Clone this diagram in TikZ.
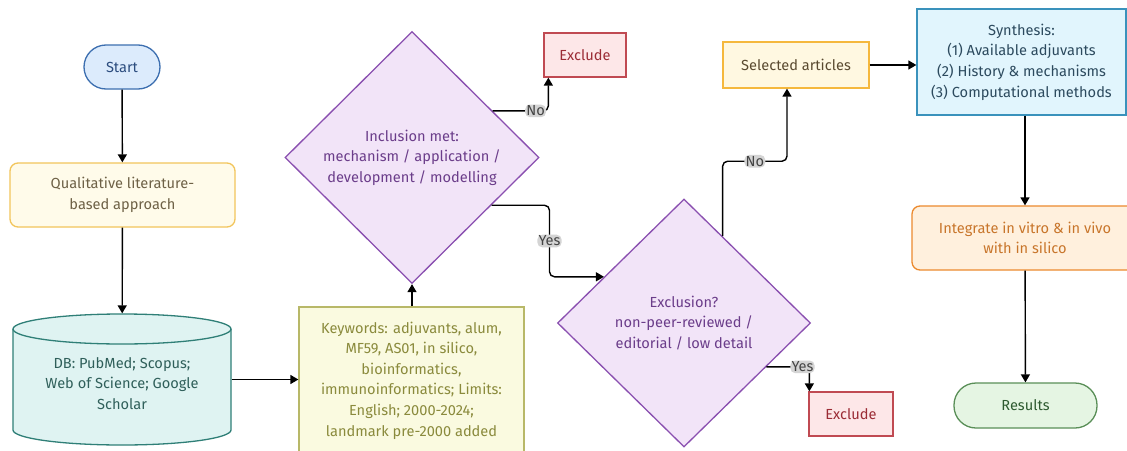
\documentclass[tikz,border=0pt]{standalone}
\usepackage{fontspec}
\setmainfont{Fira Sans}
\usetikzlibrary{shapes.geometric,arrows.meta,calc}
\definecolor{startF}{HTML}{DCEBFC}\definecolor{startD}{HTML}{3D6FB0}\definecolor{startT}{HTML}{2B4C7E}
\definecolor{qualF}{HTML}{FFFBEA}\definecolor{qualD}{HTML}{F2C55C}\definecolor{qualT}{HTML}{6E6146}
\definecolor{dbF}{HTML}{DFF3F2}\definecolor{dbD}{HTML}{2F7F77}\definecolor{dbT}{HTML}{2F5F5A}
\definecolor{kwF}{HTML}{FAFAE0}\definecolor{kwD}{HTML}{B8B868}\definecolor{kwT}{HTML}{8A8A3C}
\definecolor{diaF}{HTML}{F2E4F8}\definecolor{diaD}{HTML}{8A4FB0}\definecolor{diaT}{HTML}{6B3D8A}
\definecolor{exF}{HTML}{FDE7E8}\definecolor{exD}{HTML}{C04A52}\definecolor{exT}{HTML}{9B2C35}
\definecolor{selF}{HTML}{FFF8E1}\definecolor{selD}{HTML}{F5B83D}\definecolor{selT}{HTML}{5A4A30}
\definecolor{synF}{HTML}{E1F5FD}\definecolor{synD}{HTML}{3A92BC}\definecolor{synT}{HTML}{2C4A5E}
\definecolor{intF}{HTML}{FFF0DD}\definecolor{intD}{HTML}{EC8A2E}\definecolor{intT}{HTML}{C8752A}
\definecolor{resF}{HTML}{E5F5E3}\definecolor{resD}{HTML}{5A8F58}\definecolor{resT}{HTML}{2E5A30}
\definecolor{lblF}{HTML}{D4D4D4}\definecolor{lblT}{HTML}{444444}
\tikzset{
  base/.style={font=\fontsize{14.6}{20.6}\selectfont, align=center, inner sep=0pt, line width=1.3pt},
  stadium/.style={base, rectangle, rounded corners=22pt},
  roundbox/.style={base, rectangle, rounded corners=8pt},
  sqbox/.style={base, rectangle},
  dia/.style={base, diamond, draw=diaD, fill=diaF, text=diaT, line width=1.3pt},
  conn/.style={line width=1.4pt, black, -{Triangle[length=8pt,width=9pt]}, rounded corners=5pt},
  lbl/.style={font=\fontsize{14.6}{16}\selectfont, fill=lblF, text=lblT, inner sep=1.2pt}
}
\begin{document}
\begin{tikzpicture}[x=1pt,y=-1pt]
\useasboundingbox (0,0) rectangle (1127,450);
\fill[white] (0,0) rectangle (1127,450);
% nodes
\node[stadium, draw=startD, fill=startF, text=startT, minimum width=76pt, minimum height=44pt] (start) at (122,67) {Start};
\node[roundbox, draw=qualD, fill=qualF, text=qualT, minimum width=225pt, minimum height=64pt] (qual) at (122.5,195) {Qualitative literature-\\based approach};
% cylinder
\fill[dbF] (13,329) -- (13,430) arc[start angle=180, end angle=360, x radius=109pt, y radius=15pt] -- (231,329) arc[start angle=0, end angle=180, x radius=109pt, y radius=15pt] -- cycle;
\draw[dbD, line width=1.3pt] (13,329) -- (13,430) arc[start angle=180, end angle=360, x radius=109pt, y radius=15pt] -- (231,329);
\draw[dbD, line width=1.3pt] (122,329) ellipse[x radius=109pt, y radius=15pt];
\node[sqbox, text=dbT, minimum width=218pt, minimum height=131pt] (db) at (122,379.5) {\\[-2pt]DB: PubMed; Scopus;\\Web of Science; Google\\Scholar};
\node[sqbox, draw=kwD, fill=kwF, text=kwT, minimum width=225pt, minimum height=147pt] (kw) at (411.5,380.5) {Keywords: adjuvants, alum,\\MF59, AS01, in silico,\\bioinformatics,\\immunoinformatics; Limits:\\English; 2000-2024;\\landmark pre-2000 added};
\node[dia, minimum width=254pt, minimum height=252pt] (incl) at (412,157.5) {Inclusion met:\\mechanism / application /\\development / modelling};
\node[sqbox, draw=exD, fill=exF, text=exT, minimum width=82pt, minimum height=44pt] (ex1) at (585,55) {Exclude};
\node[dia, minimum width=253pt, minimum height=248pt] (excl) at (684,323) {Exclusion?\\non-peer-reviewed /\\editorial / low detail};
\node[sqbox, draw=exD, fill=exF, text=exT, minimum width=84pt, minimum height=44pt] (ex2) at (851,414) {Exclude};
\node[sqbox, draw=selD, fill=selF, text=selT, minimum width=146pt, minimum height=46pt] (sel) at (796,65) {Selected articles};
\node[sqbox, draw=synD, fill=synF, text=synT, minimum width=209pt, minimum height=106pt] (syn) at (1021.5,62) {Synthesis:\\(1) Available adjuvants\\(2) History \& mechanisms\\(3) Computational methods};
\node[roundbox, draw=intD, fill=intF, text=intT, minimum width=226pt, minimum height=64pt] (integ) at (1025,238) {Integrate in vitro \& in vivo\\with in silico};
\node[stadium, draw=resD, fill=resF, text=resT, minimum width=143pt, minimum height=45pt] (res) at (1025.5,405.5) {Results};
% connectors
\draw[conn] (start) -- (qual);
\draw[conn] (qual) -- (db);
\draw[conn] (db.east) -- (kw.west |- db.east);
\draw[conn] (kw.north -| incl.south) -- (incl.south);
\draw[conn] (incl.30) -| node[lbl, pos=0.385] {No} ($(ex1.south west)+(5,0)$);
\draw[conn] (incl.-31) -- ++(58,0) |- node[lbl, pos=0.25] {Yes} (excl.150);
\draw[conn] (excl.66) -- ++(0,-75) -| node[lbl, pos=0.25] {No} ($(sel.south)+(-9,0)$);
\draw[conn] (excl.-28) -| node[lbl, pos=0.42] {Yes} ($(ex2.north west)+(1,0)$);
\draw[conn] (sel.east) -- (sel.east -| syn.west);
\draw[conn] (integ.north |- syn.south) -- (integ.north);
\draw[conn] (integ) -- (res);
\end{tikzpicture}
\end{document}
